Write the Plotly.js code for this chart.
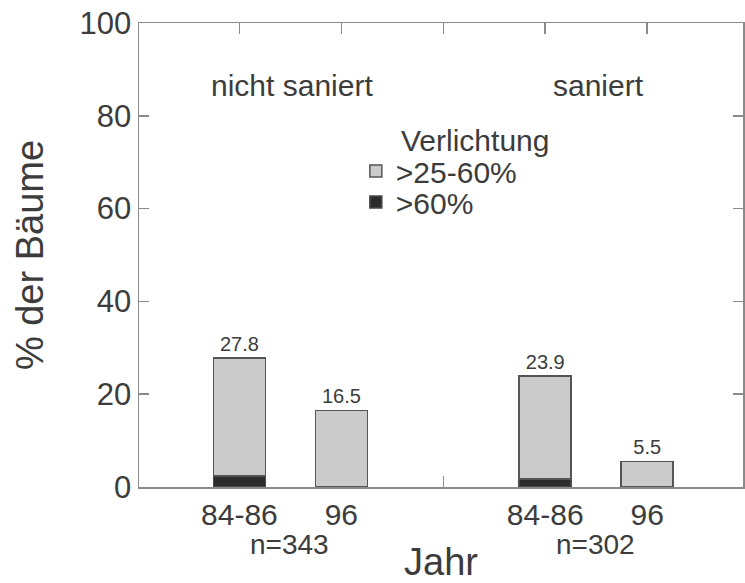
<!DOCTYPE html>
<html>
<head>
<meta charset="utf-8">
<script src="https://cdn.plot.ly/plotly-3.0.1.min.js"></script>
<style>html,body{margin:0;padding:0;background:#fff;}#chart{width:745px;height:583px;}</style>
</head>
<body>
<div id="chart"></div>
<script>
// Data
const xPos = [1, 2, 4, 5];
const tickLabels = ['84-86', '96', '', '84-86', '96'];
const tickPos = [1, 2, 3, 4, 5];
const severe = [2.4, 0, 1.7, 0];          // >60%
const moderate = [25.4, 16.5, 22.2, 5.5]; // >25-60%
const totals = ['27.8', '16.5', '23.9', '5.5'];
const groups = ['nicht saniert', 'saniert'];
const groupPos = [1.52, 4.52];
const sampleSizes = ['n=343', 'n=302'];
const seriesNames = ['>60%', '>25-60%'];

const FONT = '"Liberation Sans", Arial, Helvetica, sans-serif';
const TXT = '#3c3c3c';
const AX = '#8a8a8a';

const traces = [
  {
    type: 'bar', x: xPos, y: severe, name: seriesNames[0], width: 0.51,
    marker: {color: '#2c2c2c', line: {color: '#4a4a4a', width: 1.5}},
    legend: 'legend2', hoverinfo: 'skip'
  },
  {
    type: 'bar', x: xPos, y: moderate, name: seriesNames[1], width: 0.51,
    marker: {color: '#cbcbcb', line: {color: '#555555', width: 1.5}},
    text: totals, textposition: 'outside', cliponaxis: false,
    textfont: {family: FONT, size: 20, color: TXT},
    legend: 'legend', hoverinfo: 'skip'
  }
];

const annotations = [];
groups.forEach((g, i) => annotations.push({
  x: groupPos[i], y: 86.6, xref: 'x', yref: 'y', text: g, showarrow: false,
  font: {family: FONT, size: 30, color: TXT}, xanchor: 'center', yanchor: 'middle'
}));
sampleSizes.forEach((s, i) => annotations.push({
  x: groupPos[i] - 0.03, y: -0.123, xref: 'x', yref: 'paper', text: s, showarrow: false,
  font: {family: FONT, size: 28, color: TXT}, xanchor: 'center', yanchor: 'middle'
}));
annotations.push({
  x: 2.57, y: 74.7, xref: 'x', yref: 'y', text: 'Verlichtung', showarrow: false,
  font: {family: FONT, size: 30, color: TXT}, xanchor: 'left', yanchor: 'middle'
});

const layout = {
  width: 745, height: 583,
  margin: {l: 139, r: 2, t: 23, b: 96},
  paper_bgcolor: '#fff', plot_bgcolor: '#fff',
  barmode: 'stack',
  font: {family: FONT, color: TXT},
  showlegend: true,
  legend: {
    x: 0.359, y: 0.681, xanchor: 'left', yanchor: 'middle',
    font: {family: FONT, size: 30, color: TXT}, bgcolor: 'rgba(0,0,0,0)'
  },
  legend2: {
    x: 0.359, y: 0.614, xanchor: 'left', yanchor: 'middle',
    font: {family: FONT, size: 30, color: TXT}, bgcolor: 'rgba(0,0,0,0)'
  },
  xaxis: {
    range: [0.015, 5.94], tickmode: 'array', tickvals: tickPos, ticktext: tickLabels,
    ticks: 'inside', ticklen: 11, tickwidth: 1.5, tickcolor: AX,
    showline: true, linecolor: AX, linewidth: 1.5, mirror: 'ticks',
    showgrid: false, zeroline: false, layer: 'below traces',
    tickfont: {family: FONT, size: 30, color: TXT},
    title: {text: 'Jahr', font: {family: FONT, size: 38, color: TXT}, standoff: 30}
  },
  yaxis: {
    range: [0, 100], dtick: 20, tick0: 0,
    ticks: 'inside', ticklen: 10, tickwidth: 1.5, tickcolor: AX,
    showline: true, linecolor: AX, linewidth: 1.5, mirror: 'ticks',
    showgrid: false, zeroline: false, layer: 'below traces',
    tickfont: {family: FONT, size: 31, color: TXT},
    title: {text: '% der Bäume', font: {family: FONT, size: 38, color: TXT}, standoff: 24}
  },
  annotations: annotations
};

Plotly.newPlot('chart', traces, layout, {staticPlot: true});
</script>
</body>
</html>
